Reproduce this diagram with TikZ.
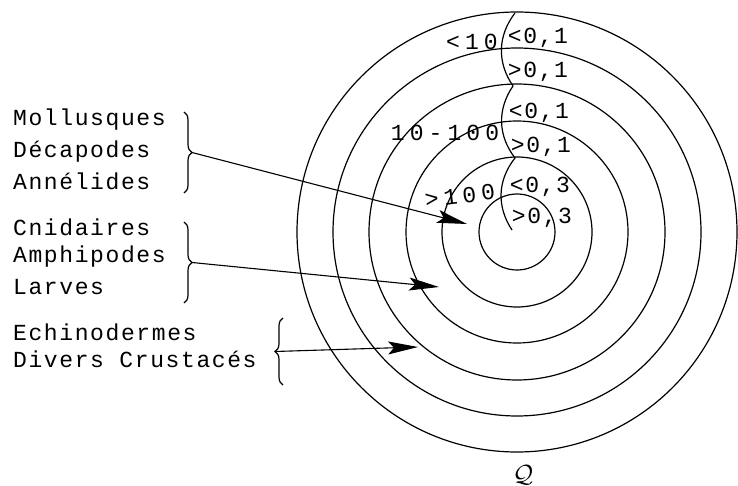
\documentclass[tikz,border=0pt]{standalone}
\usepackage{fontspec}
\usepackage{amsmath}
\usepackage{tikz}
\usetikzlibrary{arrows.meta, decorations.pathreplacing, calc}
\newfontfamily\typefont[LetterSpace=7]{Liberation Mono}
\newfontfamily\widefont[LetterSpace=22]{Liberation Mono}

\begin{document}
\begin{tikzpicture}[
  x=1pt, y=-1pt,
  taxon/.style={font={\typefont\fontsize{23}{25}\selectfont}, anchor=west, inner sep=0pt},
  ringlab/.style={font={\typefont\fontsize{23}{25}\selectfont}, inner sep=0pt},
  classlab/.style={font={\widefont\fontsize{23}{25}\selectfont}, inner sep=0pt},
  ring/.style={line width=1.2pt},
  wave/.style={line width=1.2pt},
  bracepath/.style={decorate, decoration={brace, amplitude=8pt}, line width=1.2pt},
  arr/.style={-{Stealth[length=30pt, width=13pt, inset=6pt]}, line width=1.1pt},
]
\useasboundingbox (0,0) rectangle (738,486);

% concentric zones
\coordinate (ctr) at (517,232);
\foreach \r in {38,75,111,148,184,220}
  \draw[ring] (ctr) circle[radius=\r];

% dividing wavy line
\coordinate (w0) at (515,13);
\coordinate (w2) at (513,86);
\coordinate (w4) at (515,158);
\coordinate (w6) at (512,230);
\draw[wave] (w0) to[bend right=36] (w2) to[bend right=36] (w4) to[bend right=36] (w6);

% ring labels
\node[classlab] (n1) at (472,42) {<10};
\node[classlab] (n2) at (445,133) {10-100};
\node[classlab, rotate=7] (n3) at (460,196) {>100};
\node[ringlab] (q1) at (538,38) {<0,1};
\node[ringlab] (q2) at (538,72) {>0,1};
\node[ringlab] (q3) at (539,113) {<0,1};
\node[ringlab] (q4) at (541,147) {>0,1};
\node[ringlab] (q5) at (540,187) {<0,3};
\node[ringlab] (q6) at (542,218) {>0,3};

% groups of taxa
\node[taxon] (moll) at (13,120) {Mollusques};
\node[taxon] (deca) at (13,152) {Décapodes};
\node[taxon] (anne) at (13,181) {Annélides};
\node[taxon] (cnid) at (13,227) {Cnidaires};
\node[taxon] (amph) at (13,257) {Amphipodes};
\node[taxon] (larv) at (13,287) {Larves};
\node[taxon] (echi) at (13,332) {Echinodermes};
\node[taxon] (crus) at (13,359) {Divers Crustacés};

% braces
\draw[bracepath] (184,112) -- (184,193);
\draw[bracepath] (184,222) -- (184,303);
\draw[bracepath] (283,385) -- (283,318);
\coordinate (b1) at (192,152.5);
\coordinate (b2) at (192,262.5);
\coordinate (b3) at (275,351.5);

% arrows into the zones
\coordinate (a1) at (467,224);
\coordinate (a2) at (439,287);
\coordinate (a3) at (418,347);
\draw[arr] (b1) -- (a1);
\draw[arr] (b2) -- (a2);
\draw[arr] (b3) -- (a3);

\node[font=\fontsize{26}{28}\selectfont] (qq) at (523,475) {$\mathcal{Q}$};
\end{tikzpicture}
\end{document}
